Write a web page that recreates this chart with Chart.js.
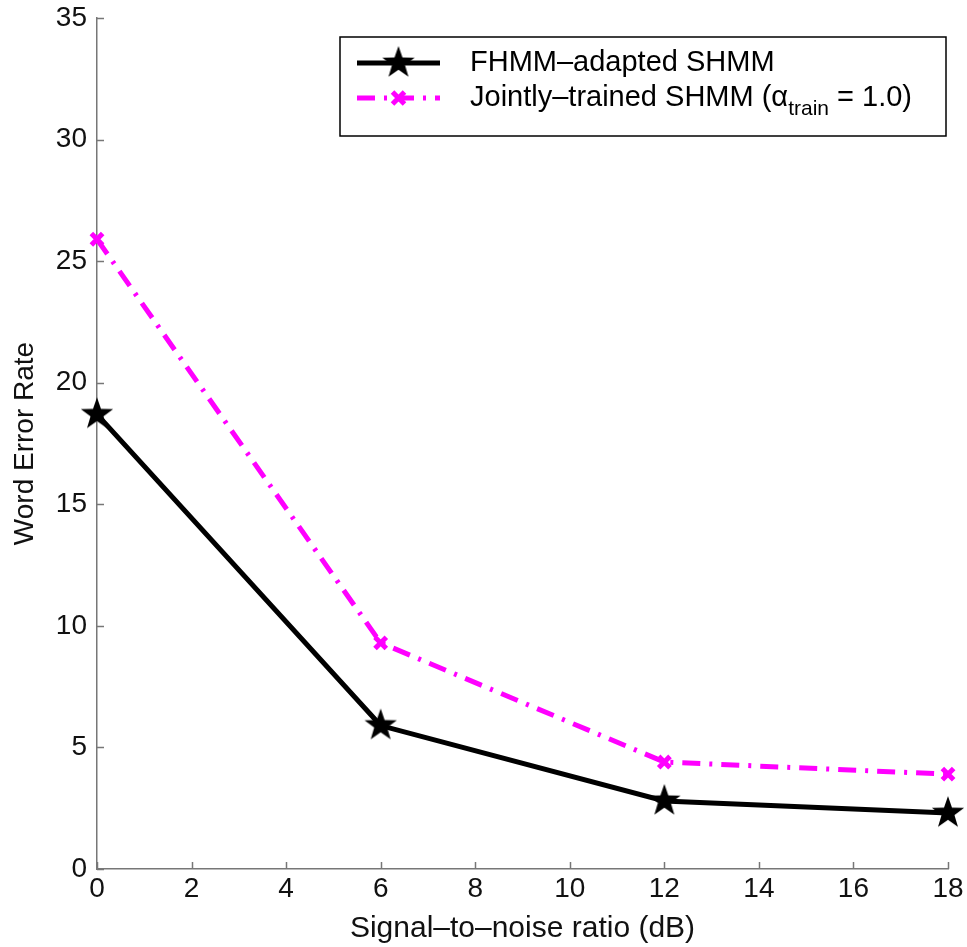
<!DOCTYPE html>
<html>
<head>
<meta charset="utf-8">
<script src="https://cdn.jsdelivr.net/npm/chart.js@4.4.0/dist/chart.umd.min.js"></script>
<style>
html,body{margin:0;padding:0;background:#fff;}
canvas{display:block;}
</style>
</head>
<body>
<canvas id="c" width="967" height="947"></canvas>
<script>
// ---- data ----
const snr = [0, 6, 12, 18];
const fhmmAdapted = [18.7, 5.9, 2.8, 2.3];
const jointlyTrained = [25.9, 9.3, 4.4, 3.9];
const seriesNames = ['FHMM\u2013adapted SHMM', 'Jointly\u2013trained SHMM'];
const xTitle = 'Signal\u2013to\u2013noise ratio (dB)';
const yTitle = 'Word Error Rate';

const FONT = '"Liberation Sans", Arial, Helvetica, sans-serif';

function makeStar(r) {
  const size = Math.ceil(r * 2 + 4);
  const cv = document.createElement('canvas');
  cv.width = size; cv.height = size;
  const g = cv.getContext('2d');
  const cx = size / 2, cy = size / 2, ri = r * 0.40;
  g.beginPath();
  for (let i = 0; i < 10; i++) {
    const rad = i % 2 === 0 ? r : ri;
    const a = -Math.PI / 2 + i * Math.PI / 5;
    const px = cx + rad * Math.cos(a), py = cy + rad * Math.sin(a);
    if (i === 0) g.moveTo(px, py); else g.lineTo(px, py);
  }
  g.closePath();
  g.fillStyle = '#000';
  g.fill();
  return cv;
}
const starImg = makeStar(17);

const toPts = (xs, ys) => xs.map((x, i) => ({x: x, y: ys[i]}));

const inwardTicks = {
  id: 'inwardTicks',
  beforeDatasetsDraw(chart) {
    const ctx = chart.ctx;
    const xs = chart.scales.x, ys = chart.scales.y;
    const a = chart.chartArea;
    ctx.save();
    ctx.strokeStyle = '#777';
    ctx.lineWidth = 1.5;
    ctx.beginPath();
    xs.ticks.forEach(t => {
      const px = Math.round(xs.getPixelForValue(t.value)) + 0.5;
      ctx.moveTo(px, a.bottom); ctx.lineTo(px, a.bottom - 7);
    });
    ys.ticks.forEach(t => {
      const py = Math.round(ys.getPixelForValue(t.value)) + 0.5;
      ctx.moveTo(a.left, py); ctx.lineTo(a.left + 7, py);
    });
    ctx.stroke();
    ctx.restore();
  }
};

const boxLegend = {
  id: 'boxLegend',
  afterDatasetsDraw(chart) {
    const ctx = chart.ctx;
    const a = chart.chartArea;
    const right = a.right - 2, left = right - 606;
    const top = a.top + 19, bottom = top + 99;
    ctx.save();
    ctx.fillStyle = '#fff';
    ctx.fillRect(left, top, right - left, bottom - top);
    ctx.strokeStyle = '#000';
    ctx.lineWidth = 1.5;
    ctx.strokeRect(left, top, right - left, bottom - top);

    const ds = chart.data.datasets;
    const rows = [top + 26, top + 61];
    const lx0 = left + 17, lx1 = left + 100, mx = (lx0 + lx1) / 2;
    // row 1
    ctx.strokeStyle = ds[0].borderColor;
    ctx.lineWidth = ds[0].borderWidth;
    ctx.setLineDash([]);
    ctx.beginPath(); ctx.moveTo(lx0, rows[0]); ctx.lineTo(lx1, rows[0]); ctx.stroke();
    ctx.drawImage(starImg, mx - starImg.width / 2, rows[0] - starImg.height / 2);
    // row 2
    ctx.strokeStyle = ds[1].borderColor;
    ctx.lineWidth = ds[1].borderWidth;
    ctx.setLineDash(ds[1].borderDash);
    ctx.beginPath(); ctx.moveTo(lx0, rows[1]); ctx.lineTo(lx1, rows[1]); ctx.stroke();
    ctx.setLineDash([]);
    ctx.lineWidth = 5;
    const r = 6;
    ctx.beginPath();
    ctx.moveTo(mx - r, rows[1] - r); ctx.lineTo(mx + r, rows[1] + r);
    ctx.moveTo(mx + r, rows[1] - r); ctx.lineTo(mx - r, rows[1] + r);
    ctx.stroke();

    ctx.fillStyle = '#000';
    ctx.textBaseline = 'middle';
    ctx.textAlign = 'left';
    ctx.font = '29px ' + FONT;
    const tx = left + 130;
    ctx.fillText(seriesNames[0], tx, rows[0]);
    let s = seriesNames[1] + ' (\u03b1';
    ctx.fillText(s, tx, rows[1]);
    let w = ctx.measureText(s).width;
    ctx.font = '21px ' + FONT;
    ctx.fillText('train', tx + w, rows[1] + 11);
    w += ctx.measureText('train').width;
    ctx.font = '29px ' + FONT;
    ctx.fillText(' = 1.0)', tx + w, rows[1]);
    ctx.restore();
  }
};

new Chart(document.getElementById('c'), {
  type: 'line',
  data: {
    datasets: [
      {
        label: seriesNames[0],
        data: toPts(snr, fhmmAdapted),
        borderColor: '#000',
        backgroundColor: '#000',
        borderWidth: 5,
        pointStyle: starImg,
        pointRadius: 17,
        pointHoverRadius: 17,
        tension: 0,
        clip: false
      },
      {
        label: seriesNames[1],
        data: toPts(snr, jointlyTrained),
        borderColor: '#ff00ff',
        backgroundColor: '#ff00ff',
        borderWidth: 5,
        borderDash: [18, 9, 3, 9],
        pointStyle: 'crossRot',
        pointRadius: 8,
        pointHoverRadius: 8,
        pointBorderWidth: 5,
        tension: 0,
        clip: false
      }
    ]
  },
  options: {
    responsive: false,
    animation: false,
    events: [],
    layout: { autoPadding: false, padding: { top: 18, right: 19, bottom: 0, left: 8 } },
    plugins: { legend: { display: false }, tooltip: { enabled: false } },
    scales: {
      x: {
        type: 'linear',
        min: 0, max: 18,
        afterFit(s) { s.height = 78; s.paddingLeft = 0; s.paddingRight = 0; },
        ticks: { stepSize: 2, color: '#111', font: { family: FONT, size: 28 }, padding: 3 },
        grid: { drawOnChartArea: false, drawTicks: false },
        border: { color: '#777', width: 1.5 },
        title: { display: true, text: xTitle, color: '#111', font: { family: FONT, size: 30 }, padding: { top: 0, bottom: 0 } }
      },
      y: {
        type: 'linear',
        min: 0, max: 35,
        afterFit(s) { s.width = 89; s.paddingTop = 0; s.paddingBottom = 0; },
        ticks: { stepSize: 5, color: '#111', font: { family: FONT, size: 28 }, padding: 10 },
        grid: { drawOnChartArea: false, drawTicks: false },
        border: { color: '#777', width: 1.5 },
        title: { display: true, text: yTitle, color: '#111', font: { family: FONT, size: 28 }, padding: { top: 0, bottom: 0 } }
      }
    }
  },
  plugins: [inwardTicks, boxLegend]
});
</script>
</body>
</html>
